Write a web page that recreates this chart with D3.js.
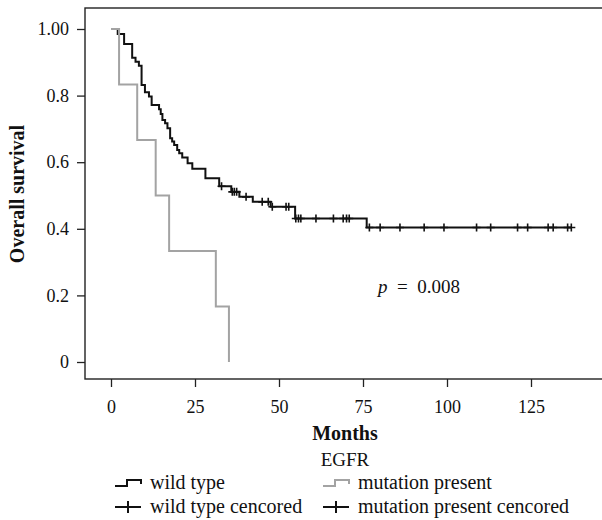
<!DOCTYPE html>
<html>
<head>
<meta charset="utf-8">
<script src="https://cdn.jsdelivr.net/npm/d3@7"></script>
<style>
  body { margin: 0; background: #fff; }
  text { font-family: "Liberation Serif", "DejaVu Serif", serif; fill: #111; }
</style>
</head>
<body>
<div id="chart-area"></div>
<script>
// wild type: event times (months) and survival after each step
let wildTimes = [2.0, 3.9, 6.3, 7.3, 8.3, 9.1, 10.1, 11.3, 12.1, 14.3, 14.8, 15.3, 16.1, 16.8, 17.6, 18.2,
  18.8, 19.7, 20.3, 21.2, 22.8, 24.2, 28.1, 32.2, 35.8, 38.2, 42.2, 47.5, 54.8, 76.1];
let wildSurv = [0.985, 0.955, 0.914, 0.902, 0.890, 0.832, 0.810, 0.797, 0.772, 0.759, 0.745, 0.727, 0.717,
  0.702, 0.672, 0.662, 0.652, 0.637, 0.627, 0.614, 0.597, 0.580, 0.552, 0.528, 0.511, 0.496, 0.481, 0.466,
  0.431, 0.404];
let wildCensored = [32.9, 36.1, 36.7, 37.4, 40.2, 45.0, 46.8, 48.0, 52.1, 52.9, 55.0, 55.8, 56.5, 61.0,
  66.2, 69.1, 70.1, 70.9, 76.9, 80.1, 86.0, 93.2, 99.1, 108.8, 113.0, 121.0, 124.0, 130.1, 131.6, 135.9, 137.0];

// mutation present
let mutTimes = [2.4, 7.8, 13.3, 17.3, 31.2, 35.1];
let mutSurv = [0.833, 0.667, 0.5, 0.333, 0.167, 0];
let mutCensored = [];

let xTicks = [0, 25, 50, 75, 100, 125];
let yTicks = [0, 0.2, 0.4, 0.6, 0.8, 1];
let yTickLabels = ["0", "0.2", "0.4", "0.6", "0.8", "1.00"];

let w = 602;
let h = 520;
let black = "#111";
let grey = "#a3a3a3";

let svg = d3.select("#chart-area")
    .append("svg")
    .attr("width", w)
    .attr("height", h);

// scales
let x = d3.scaleLinear().domain([0, 125]).range([111, 531]);
let y = d3.scaleLinear().domain([0, 1]).range([362, 29]);

// frame (right side runs off the picture)
svg.append("rect")
    .attr("x", 85).attr("y", 8)
    .attr("width", 600).attr("height", 371)
    .attr("fill", "none")
    .attr("stroke", "#222")
    .attr("stroke-width", 1.4);

// axes
let yAxis = svg.append("g")
    .attr("transform", "translate(85,0)")
    .call(d3.axisLeft(y)
      .tickValues(yTicks)
      .tickFormat(function(d, i) { return yTickLabels[i]; })
      .tickSize(8)
      .tickPadding(8)
      .tickSizeOuter(0));

let xAxis = svg.append("g")
    .attr("transform", "translate(0,379)")
    .call(d3.axisBottom(x)
      .tickValues(xTicks)
      .tickSize(8)
      .tickPadding(13)
      .tickSizeOuter(0));

[yAxis, xAxis].forEach(function(g) {
  g.select(".domain").remove();
  g.selectAll(".tick line").attr("stroke", "#222").attr("stroke-width", 1.3);
  g.selectAll(".tick text")
    .attr("font-family", "Liberation Serif")
    .attr("font-size", 18)
    .attr("fill", "#111");
});

// axis titles
svg.append("text")
    .attr("transform", "translate(24,194) rotate(-90)")
    .attr("text-anchor", "middle")
    .attr("font-size", 20)
    .attr("font-weight", "bold")
    .text("Overall survival");

svg.append("text")
    .attr("x", 345).attr("y", 440)
    .attr("text-anchor", "middle")
    .attr("font-size", 20)
    .attr("font-weight", "bold")
    .text("Months");

// survival curves
function stepPoints(times, surv, end) {
  let pts = [[0, 1]];
  times.forEach(function(t, i) { pts.push([t, surv[i]]); });
  if (end > times[times.length - 1]) pts.push([end, surv[surv.length - 1]]);
  return pts;
}

function survAt(times, surv, t) {
  let s = 1;
  times.forEach(function(ti, i) { if (ti <= t) s = surv[i]; });
  return s;
}

let line = d3.line()
    .x(function(d) { return x(d[0]); })
    .y(function(d) { return y(d[1]); })
    .curve(d3.curveStepAfter);

let groups = [
  {times: wildTimes, surv: wildSurv, cens: wildCensored, color: black},
  {times: mutTimes, surv: mutSurv, cens: mutCensored, color: grey}
];

groups.forEach(function(g) {
  let end = d3.max([g.times[g.times.length - 1]].concat(g.cens));
  svg.append("path")
      .datum(stepPoints(g.times, g.surv, end))
      .attr("d", line)
      .attr("fill", "none")
      .attr("stroke", g.color)
      .attr("stroke-width", 2);

  svg.selectAll(null)
      .data(g.cens)
      .enter()
      .append("path")
      .attr("d", function(t) {
        let cx = x(t), cy = y(survAt(g.times, g.surv, t));
        return "M" + (cx - 4) + "," + cy + "H" + (cx + 4) + "M" + cx + "," + (cy - 4) + "V" + (cy + 4);
      })
      .attr("stroke", black)
      .attr("stroke-width", 1.6)
      .attr("fill", "none");
});

// p value
let pText = svg.append("text")
    .attr("x", 378).attr("y", 293)
    .attr("font-size", 19);
pText.append("tspan").attr("font-style", "italic").text("p");
pText.append("tspan").text("\u2002=\u20020.008");

// legend
svg.append("text")
    .attr("x", 345).attr("y", 466)
    .attr("text-anchor", "middle")
    .attr("font-size", 19)
    .text("EGFR");

let legendItems = [
  {label: "wild type", color: black, kind: "step", lx: 115, ly: 483},
  {label: "mutation present", color: grey, kind: "step", lx: 323, ly: 483},
  {label: "wild type cencored", color: black, kind: "cross", lx: 115, ly: 507},
  {label: "mutation present cencored", color: black, kind: "cross", lx: 323, ly: 507}
];

legendItems.forEach(function(d) {
  let p;
  if (d.kind == "step") {
    p = "M" + d.lx + "," + (d.ly + 3) + "H" + (d.lx + 12) + "V" + (d.ly - 3) + "H" + (d.lx + 26) + "V" + (d.ly + 1);
  } else {
    p = "M" + d.lx + "," + d.ly + "H" + (d.lx + 26) + "M" + (d.lx + 13) + "," + (d.ly - 6) + "V" + (d.ly + 6);
  }
  svg.append("path")
      .attr("d", p)
      .attr("fill", "none")
      .attr("stroke", d.color)
      .attr("stroke-width", 2);
  svg.append("text")
      .attr("x", d.lx + 35).attr("y", d.ly + 6)
      .attr("font-size", 20)
      .text(d.label);
});
</script>
</body>
</html>
